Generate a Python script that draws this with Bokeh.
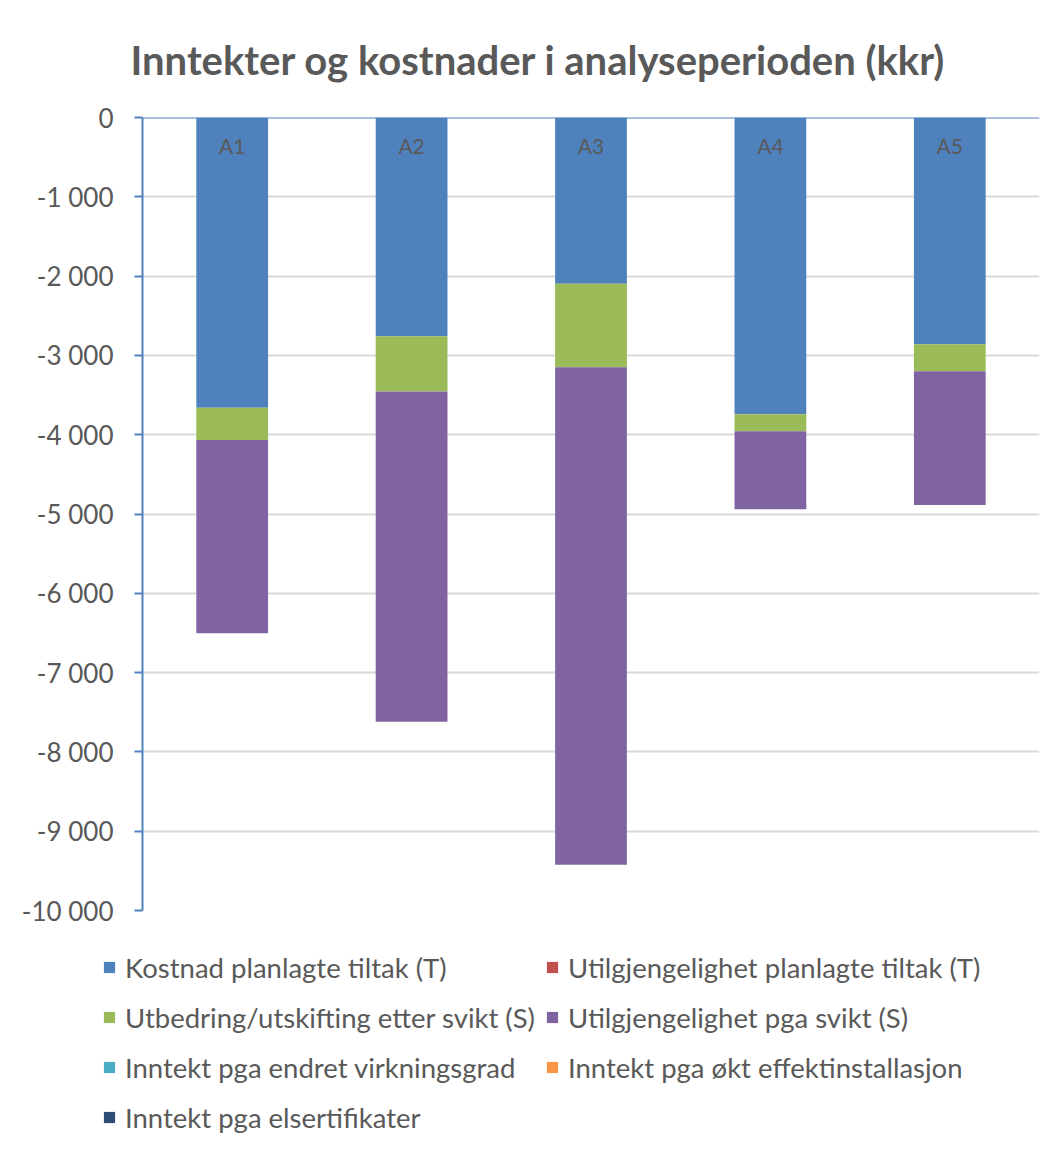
from bokeh.plotting import figure
from bokeh.layouts import column
from bokeh.models import (Range1d, FixedTicker, CustomJSTickFormatter, Legend,
                          LegendItem, ColumnDataSource, Span)
from bokeh.embed import file_html
from bokeh.resources import INLINE
from bokeh.core.properties import value

# Alternatives and cost/income components (kkr)
alternatives = ["A1", "A2", "A3", "A4", "A5"]
kostnad_planlagte = [-3661, -2758, -2095, -3741, -2859]
utilgj_planlagte = [0, 0, 0, 0, 0]
utbedring_svikt = [-407, -697, -1054, -214, -340]
utilgj_svikt = [-2435, -4165, -6275, -986, -1688]
inntekt_virkningsgrad = [0, 0, 0, 0, 0]
inntekt_effekt = [0, 0, 0, 0, 0]
inntekt_elsert = [0, 0, 0, 0, 0]

series_labels = [
    "Kostnad planlagte tiltak (T)",
    "Utilgjengelighet planlagte tiltak (T)",
    "Utbedring/utskifting etter svikt (S)",
    "Utilgjengelighet pga svikt (S)",
    "Inntekt pga endret virkningsgrad",
    "Inntekt pga økt effektinstallasjon",
    "Inntekt pga elsertifikater",
]
series_colors = ["#4F81BD", "#C0504D", "#9BBB59", "#8064A2",
                 "#4BACC6", "#F79646", "#2C4D75"]
y_ticks = list(range(-10000, 1, 1000))

keys = ["kostnad", "utilgj_pl", "utbedring", "utilgj_sv",
        "inn_virk", "inn_eff", "inn_el"]
source = ColumnDataSource(dict(
    alt=alternatives,
    kostnad=kostnad_planlagte,
    utilgj_pl=utilgj_planlagte,
    utbedring=utbedring_svikt,
    utilgj_sv=utilgj_svikt,
    inn_virk=inntekt_virkningsgrad,
    inn_eff=inntekt_effekt,
    inn_el=inntekt_elsert,
))

FONT = "Lato"
TEXT_COLOR = "#595959"
AXIS_BLUE = "#4F81BD"

p = figure(x_range=alternatives, y_range=Range1d(-10000, 0),
           width=1056, height=943, output_backend="svg",
           toolbar_location=None, x_axis_location=None,
           min_border_left=142, min_border_right=17,
           min_border_top=116, min_border_bottom=33)
p.outline_line_color = None
p.background_fill_color = "white"
p.border_fill_color = "white"

p.vbar_stack(keys, x="alt", width=0.4, source=source,
             fill_color=series_colors, line_color=None)

# zero line acting as the category axis
p.add_layout(Span(location=0, dimension="width", line_color=AXIS_BLUE,
                  line_width=2))

# category names sit just under the zero line
p.text(x=alternatives, y=[0] * len(alternatives), text=alternatives,
       text_font=value(FONT), text_font_size="21px", text_color=TEXT_COLOR,
       text_align="center", text_baseline="middle", y_offset=28)

# title
p.title.text = "Inntekter og kostnader i analyseperioden (kkr)"
p.title.text_font = FONT
p.title.text_font_style = "bold"
p.title.text_font_size = "40px"
p.title.text_color = TEXT_COLOR
p.title.align = "left"
p.title.offset = -12
p.title.standoff = 67

# value axis
p.yaxis.ticker = FixedTicker(ticks=y_ticks)
p.yaxis.formatter = CustomJSTickFormatter(code="""
    const s = Math.abs(tick).toFixed(0).replace(/\\B(?=(\\d{3})+(?!\\d))/g, " ");
    return (tick < 0 ? "-" : "") + s;
""")
p.yaxis.major_label_text_font = FONT
p.yaxis.major_label_text_font_size = "26px"
p.yaxis.major_label_text_color = TEXT_COLOR
p.yaxis.axis_line_color = AXIS_BLUE
p.yaxis.axis_line_width = 2
p.yaxis.major_tick_line_color = AXIS_BLUE
p.yaxis.major_tick_line_width = 2
p.yaxis.major_tick_out = 8
p.yaxis.major_tick_in = 0
p.yaxis.minor_tick_line_color = None
p.yaxis.major_label_standoff = 21

p.ygrid.ticker = FixedTicker(ticks=y_ticks)
p.ygrid.grid_line_color = "#D9D9D9"
p.ygrid.grid_line_width = 2
p.xgrid.grid_line_color = None

# legend panel underneath the chart; the same stacks are drawn out of view
# so that the legend has swatches to show
leg = figure(width=1056, height=202, output_backend="svg",
             toolbar_location=None, x_range=alternatives, y_range=Range1d(1, 2),
             x_axis_location=None, y_axis_location=None,
             min_border_left=0, min_border_right=0,
             min_border_top=0, min_border_bottom=0)
leg.grid.visible = False
leg.outline_line_color = None
leg.border_fill_color = "white"
leg.margin = (4, 0, 0, -40)

chips = leg.vbar_stack(keys, x="alt", width=0.4, source=source,
                       fill_color=series_colors, line_color=None)
legend = Legend(
    items=[LegendItem(label=lbl, renderers=[r])
           for lbl, r in zip(series_labels, chips)],
    location="top_left", orientation="horizontal", ncols=2,
    label_text_font=FONT, label_text_font_size="27.5px",
    label_text_color=TEXT_COLOR, glyph_width=14, glyph_height=14,
    label_standoff=9, spacing=10, padding=0, margin=0, label_height=40,
    background_fill_alpha=0, border_line_color=None,
)
leg.add_layout(legend, "center")

open("out.html", "w").write(file_html(column(p, leg, spacing=0), INLINE))
